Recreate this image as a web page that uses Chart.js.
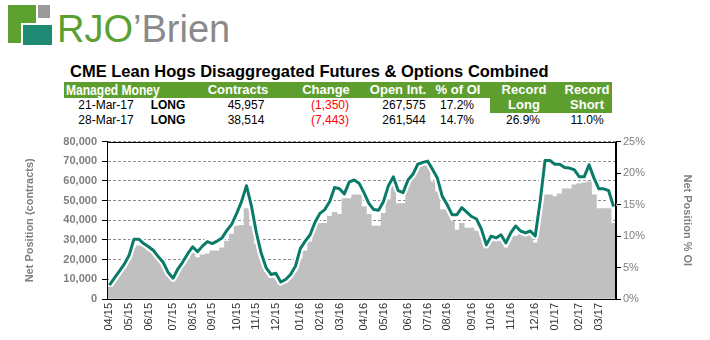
<!DOCTYPE html>
<html>
<head>
<meta charset="utf-8">
<script src="https://cdn.jsdelivr.net/npm/chart.js@4.4.1/dist/chart.umd.min.js"></script>
<style>
    body { margin: 0; width: 710px; height: 340px; background: #fff; position: relative; overflow: hidden;
           font-family: Arial, "Liberation Sans", sans-serif; }
    .abs { position: absolute; white-space: nowrap; }
    .cell { position: absolute; white-space: nowrap; text-align: center; width: 100px; font-size: 12px; line-height: 14px; color: #000; }
    .head { color: #fff; font-weight: bold; font-size: 13px; line-height: 16px; }
</style>
</head>
<body>
<!-- logo -->
<div class="abs" style="left:8px;top:5px;width:28px;height:38px;background:#5da130"></div>
<div class="abs" style="left:38px;top:5px;width:12px;height:13px;background:#9a9a9a"></div>
<div class="abs" style="left:21px;top:23px;width:29px;height:20px;background:#1e8a74;border-left:2px solid #fff;border-top:2px solid #fff"></div>
<div class="abs" style="left:57px;top:10px;font-size:38px;line-height:38px"><span style="color:#5ba033">RJO</span><span style="color:#8a8a8a">’Brien</span></div>

<div class="abs" id="title" style="left:70px;top:63px;font-size:16.5px;line-height:17px;font-weight:bold">CME Lean Hogs Disaggregated Futures &amp; Options Combined</div>
<div id="table"></div>

<canvas id="netChart" width="710" height="210" style="position:absolute;left:0;top:130px"></canvas>

<script>
// table text
const tableHead = ['Contracts', 'Change', 'Open Int.', '% of OI'];
const tableRows = [
    ['21-Mar-17', 'LONG', '45,957', '(1,350)', '267,575', '17.2%'],
    ['28-Mar-17', 'LONG', '38,514', '(7,443)', '261,544', '14.7%']
];
const recordLong = '26.9%';
const recordShort = '11.0%';

// weekly net position, managed money (contracts), from 7-Apr-15
const netContracts = [
    6000, 9000, 12500, 15500, 19500, 26000, 27000, 26500, 24500, 23500,
    20500, 18500, 15500, 10500, 13500, 17000, 20500, 24500, 21000, 22500,
    23000, 24500, 24500, 26000, 29500, 33000, 37000, 37500, 46000, 37000,
    28000, 20500, 13500, 10500, 10500, 7500, 8500, 11000, 14000, 20500,
    24500, 29000, 36000, 38500, 38500, 42000, 44000, 43000, 51000, 51000,
    53000, 53000, 47000, 43000, 37000, 37000, 43500, 50500, 58000, 48500,
    48500, 58000, 65000, 66000, 69500, 69500, 59500, 54500, 45500, 45500,
    39500, 35000, 38500, 36000, 36000, 34500, 32000, 26000, 29500, 29500,
    29500, 26000, 32000, 32000, 33000, 33000, 33000, 28500, 45500, 53000,
    53000, 52000, 53500, 56000, 56000, 58000, 58500, 59000, 59500, 53000,
    46000, 46000, 45957, 38514
];

// net position as % of open interest
const pctOfOI = [
    2.2, 3.3, 4.4, 5.5, 6.9, 9.5, 9.5, 8.8, 8.3, 7.7,
    6.7, 5.8, 4.2, 3.3, 4.8, 5.9, 7.2, 8.3, 7.5, 8.4,
    9.1, 8.8, 9.2, 9.7, 10.9, 11.9, 13.6, 15.5, 18.0, 14.8,
    10.6, 7.3, 5.0, 3.9, 4.1, 2.7, 3.1, 3.9, 5.2, 8.0,
    9.2, 10.2, 12.2, 13.6, 14.2, 15.5, 17.7, 17.5, 16.7, 18.6,
    18.9, 18.4, 16.9, 15.2, 14.2, 14.1, 15.5, 18.0, 19.4, 17.2,
    16.9, 18.9, 19.8, 21.4, 21.7, 21.9, 20.6, 19.2, 16.3, 15.0,
    13.4, 13.4, 14.5, 13.8, 13.1, 12.7, 11.1, 8.6, 10.0, 9.7,
    10.2, 8.9, 10.5, 11.6, 10.8, 10.5, 10.8, 10.0, 15.5, 22.0,
    22.0, 21.4, 21.4, 20.9, 20.8, 20.5, 19.4, 19.4, 21.3, 19.2,
    17.5, 17.5, 17.2, 14.7
];

// weekly report dates -> MM/YY labels
const weekLabels = [];
const firstReport = Date.UTC(2015, 3, 7);
for (let i = 0; i < netContracts.length; i++) {
    const d = new Date(firstReport + i * 7 * 86400000);
    weekLabels.push(String(d.getUTCMonth() + 1).padStart(2, '0') + '/' + String(d.getUTCFullYear()).slice(2));
}

// ---- table ----
function addCell(text, x, y, cls, style) {
    const el = document.createElement('div');
    el.className = 'cell ' + (cls || '');
    el.textContent = text;
    el.style.left = (x - 50) + 'px';
    el.style.top = y + 'px';
    if (style) el.setAttribute('style', el.getAttribute('style') + ';' + style);
    document.getElementById('table').appendChild(el);
}
const band = document.createElement('div');
band.className = 'abs';
band.style.cssText = 'left:64px;top:82px;width:426px;height:16px;background:#5e9e2f';
document.getElementById('table').appendChild(band);
const recBox = document.createElement('div');
recBox.className = 'abs';
recBox.style.cssText = 'left:490px;top:82px;width:122px;height:31px;background:#5e9e2f';
document.getElementById('table').appendChild(recBox);

const mm = document.createElement('div');
mm.className = 'abs';
mm.style.cssText = 'left:66px;top:82px;color:#fff;font-weight:bold;font-size:14px;line-height:16px;transform:scaleX(0.86);transform-origin:0 0;';
mm.textContent = 'Managed Money';
document.getElementById('table').appendChild(mm);

const headX = [238, 326, 398, 458];
tableHead.forEach((h, i) => addCell(h, headX[i], 82, 'head'));
addCell('Record', 524, 82, 'head');
addCell('Record', 587, 82, 'head');
addCell('Long', 524, 97, 'head');
addCell('Short', 587, 97, 'head');

const colX = [106, 168, 246, 330, 404, 457];
tableRows.forEach((row, r) => {
    row.forEach((v, c) => {
        let st = '';
        if (c === 1) st = 'font-weight:bold';
        if (c === 3) st = 'color:#ff0000';
        addCell(v, colX[c], 98 + r * 15, '', st);
    });
});
addCell(recordLong, 523, 113);
addCell(recordShort, 587, 113);

// ---- chart ----
const framePlugin = {
    id: 'frame',
    afterDatasetsDraw(chart) {
        const a = chart.chartArea;
        const ctx = chart.ctx;
        ctx.save();
        ctx.strokeStyle = '#000';
        ctx.lineWidth = 1;
        ctx.strokeRect(Math.round(a.left) + 0.5, Math.round(a.top) + 0.5,
                       Math.round(a.right - a.left) - 1, Math.round(a.bottom - a.top));
        ctx.restore();
    }
};

const greyText = '#7f7f7f';

new Chart(document.getElementById('netChart').getContext('2d'), {
    data: {
        labels: weekLabels,
        datasets: [
            {
                type: 'line',
                data: pctOfOI,
                yAxisID: 'y2',
                borderColor: '#0b7b69',
                borderWidth: 3,
                pointRadius: 0,
                tension: 0,
                borderJoinStyle: 'round',
                order: 1
            },
            {
                type: 'line',
                data: pctOfOI,
                yAxisID: 'y2',
                borderColor: '#ffffff',
                borderWidth: 7,
                pointRadius: 0,
                tension: 0,
                borderJoinStyle: 'round',
                order: 2
            },
            {
                type: 'bar',
                data: netContracts,
                yAxisID: 'y',
                backgroundColor: '#c0c0c0',
                borderWidth: 0,
                barPercentage: 1,
                categoryPercentage: 1,
                order: 3
            }
        ]
    },
    options: {
        responsive: false,
        animation: false,
        layout: { padding: { top: 9, left: 0, right: 0, bottom: 0 } },
        plugins: { legend: { display: false }, tooltip: { enabled: false } },
        scales: {
            x: {
                type: 'category',
                grid: { display: false, drawTicks: false },
                border: { display: true, color: '#000' },
                ticks: {
                    autoSkip: false,
                    minRotation: 90,
                    maxRotation: 90,
                    padding: 4,
                    color: '#333',
                    font: { family: 'Arial', size: 11 },
                    callback: function(val, idx) {
                        const lab = weekLabels[idx];
                        return (idx === 0 || lab !== weekLabels[idx - 1]) ? lab : '';
                    }
                },
                afterFit: s => { s.height = 41; }
            },
            y: {
                position: 'left',
                min: 0,
                max: 80000,
                ticks: {
                    stepSize: 10000,
                    padding: 5,
                    color: greyText,
                    font: { family: 'Arial', size: 11, weight: 'bold' },
                    callback: v => v.toLocaleString('en-US')
                },
                grid: { color: '#8c8c8c', tickColor: '#000', tickLength: 5 },
                border: { display: true, color: '#000', dash: [3, 2] },
                title: {
                    display: true,
                    text: 'Net Position (contracts)',
                    color: greyText,
                    font: { family: 'Arial', size: 11, weight: 'bold' },
                    padding: { top: 23, bottom: 0 }
                },
                afterFit: s => { s.width = 107; }
            },
            y2: {
                position: 'right',
                min: 0,
                max: 25,
                ticks: {
                    stepSize: 5,
                    padding: 2,
                    color: greyText,
                    font: { family: 'Arial', size: 11 },
                    callback: v => v + '%'
                },
                grid: { drawOnChartArea: false, tickColor: '#000', tickLength: 5 },
                border: { display: true, color: '#000' },
                title: {
                    display: true,
                    text: 'Net Position % OI',
                    color: greyText,
                    font: { family: 'Arial', size: 11, weight: 'bold' },
                    padding: { top: 16, bottom: 0 }
                },
                afterFit: s => { s.width = 94; }
            }
        }
    },
    plugins: [framePlugin]
});
</script>
</body>
</html>
